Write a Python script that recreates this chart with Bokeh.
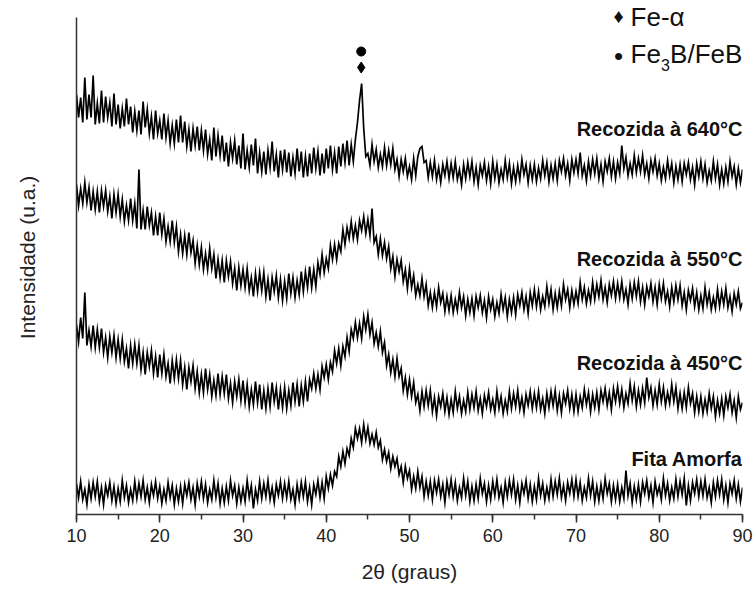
import numpy as np
from bokeh.plotting import figure
from bokeh.models import Label, Range1d, SingleIntervalTicker, FixedTicker, ColumnDataSource
from bokeh.embed import file_html
from bokeh.resources import INLINE

# 2-theta sampling grid (degrees)
two_theta = np.arange(10.0, 90.001, 0.25)

# Intensities (a.u., curves stacked with offsets as in the figure)
fita_amorfa = [
    31, 17, 33, 15, 25, 10, 30, 16, 32, 18, 33, 13, 27, 10, 29, 19, 32, 14, 28, 11,
    26, 13, 34, 17, 29, 12, 25, 14, 33, 16, 31, 18, 34, 15, 27, 12, 30, 19, 33, 16,
    28, 11, 25, 14, 32, 17, 29, 10, 26, 13, 28, 11, 30, 19, 32, 15, 27, 10, 31, 18,
    33, 16, 30, 12, 25, 15, 34, 17, 31, 11, 26, 12, 28, 14, 34, 19, 29, 11, 27, 13,
    26, 13, 34, 17, 29, 6, 25, 14, 33, 16, 31, 18, 34, 15, 27, 12, 30, 19, 33, 16,
    31, 17, 33, 15, 25, 10, 30, 16, 32, 18, 33, 13, 27, 10, 30, 20, 34, 17, 32, 16,
    38, 26, 40, 29, 43, 38, 58, 48, 63, 51, 66, 59, 76, 67, 86, 76, 86, 72, 90, 75,
    87, 71, 80, 70, 82, 67, 74, 55, 65, 53, 62, 46, 58, 48, 56, 40, 48, 32, 48, 36,
    44, 25, 38, 26, 43, 27, 38, 18, 33, 19, 33, 15, 34, 22, 35, 18, 30, 12, 33, 20,
    35, 18, 32, 14, 27, 17, 36, 19, 33, 13, 28, 14, 30, 16, 36, 21, 31, 13, 29, 15,
    33, 19, 35, 17, 27, 12, 32, 18, 34, 20, 35, 15, 29, 12, 31, 21, 34, 16, 30, 13,
    28, 15, 36, 19, 31, 14, 27, 16, 35, 18, 33, 20, 36, 17, 29, 14, 32, 21, 35, 18,
    35, 18, 32, 14, 27, 17, 36, 19, 33, 13, 28, 14, 30, 16, 36, 21, 31, 13, 29, 15,
    30, 13, 27, 16, 44, 19, 31, 12, 28, 15, 30, 13, 32, 21, 34, 17, 29, 12, 33, 20,
    28, 15, 36, 19, 31, 14, 27, 16, 35, 18, 33, 20, 36, 9, 29, 14, 32, 21, 35, 18,
    33, 19, 35, 17, 27, 12, 32, 18, 34, 20, 35, 15, 29, 12, 31, 21, 34, 16, 30, 13,
    27,
]
recozida_450 = [
    190, 173, 197, 176, 222, 169, 184, 168, 189, 167, 185, 167, 186, 162, 177, 157, 178, 162, 179, 157,
    175, 156, 175, 153, 166, 146, 169, 151, 170, 151, 169, 145, 162, 140, 162, 148, 164, 141, 158, 137,
    160, 141, 160, 138, 151, 131, 154, 136, 155, 136, 154, 130, 147, 125, 147, 133, 149, 126, 143, 122,
    140, 122, 146, 125, 140, 118, 134, 119, 141, 120, 138, 121, 140, 116, 131, 112, 133, 118, 135, 114,
    134, 112, 130, 108, 125, 110, 133, 112, 130, 105, 124, 106, 126, 108, 132, 113, 127, 105, 125, 107,
    127, 106, 124, 109, 132, 113, 130, 108, 129, 113, 133, 113, 135, 126, 141, 126, 140, 125, 148, 137,
    150, 135, 152, 143, 164, 151, 166, 149, 168, 158, 177, 163, 185, 176, 192, 177, 191, 176, 198, 185,
    200, 180, 192, 171, 182, 168, 183, 162, 172, 149, 160, 142, 155, 138, 156, 138, 146, 124, 137, 120,
    135, 118, 132, 112, 120, 104, 123, 108, 124, 109, 124, 103, 117, 99, 118, 108, 121, 103, 117, 100,
    115, 102, 123, 106, 118, 101, 114, 103, 122, 105, 120, 107, 123, 104, 116, 101, 119, 108, 122, 105,
    115, 102, 123, 106, 118, 101, 114, 103, 123, 106, 121, 108, 124, 105, 117, 102, 120, 109, 123, 106,
    121, 107, 123, 105, 116, 101, 121, 107, 123, 109, 124, 104, 119, 102, 121, 111, 124, 106, 120, 103,
    120, 103, 118, 107, 125, 110, 122, 103, 120, 107, 122, 105, 124, 113, 126, 109, 122, 105, 126, 113,
    128, 111, 125, 107, 121, 111, 131, 114, 128, 108, 124, 110, 126, 112, 137, 117, 127, 109, 124, 110,
    130, 113, 127, 109, 122, 111, 130, 113, 127, 106, 121, 106, 122, 107, 127, 111, 121, 102, 118, 103,
    118, 101, 115, 103, 121, 106, 118, 98, 114, 101, 116, 99, 118, 107, 120, 102, 114, 97, 118, 105,
    112,
]
recozida_550 = [
    330, 309, 326, 311, 332, 312, 327, 304, 323, 305, 323, 302, 324, 308, 324, 303, 318, 296, 320, 302,
    320, 298, 315, 293, 309, 294, 316, 294, 311, 286, 345, 285, 304, 285, 308, 289, 302, 279, 298, 279,
    302, 280, 296, 273, 288, 273, 294, 272, 288, 263, 280, 261, 279, 260, 282, 262, 274, 251, 269, 250,
    267, 245, 261, 245, 266, 246, 260, 236, 255, 237, 254, 232, 254, 238, 253, 231, 246, 224, 247, 229,
    245, 227, 246, 224, 237, 218, 241, 223, 242, 224, 242, 218, 235, 214, 237, 223, 239, 217, 235, 214,
    233, 216, 241, 221, 237, 217, 234, 220, 243, 223, 243, 227, 248, 227, 245, 228, 252, 240, 260, 242,
    256, 246, 269, 255, 270, 255, 271, 263, 285, 270, 287, 276, 293, 276, 289, 275, 294, 284, 298, 281,
    295, 279, 306, 272, 278, 260, 276, 259, 272, 256, 268, 246, 258, 238, 255, 243, 254, 233, 245, 226,
    246, 227, 239, 219, 230, 219, 236, 218, 230, 209, 222, 207, 222, 208, 227, 212, 221, 203, 218, 204,
    219, 202, 215, 204, 222, 207, 218, 199, 215, 202, 216, 199, 218, 207, 219, 202, 214, 197, 218, 205,
    215, 198, 212, 201, 220, 205, 217, 198, 215, 202, 217, 200, 220, 209, 222, 205, 218, 201, 222, 209,
    225, 208, 223, 205, 218, 208, 228, 211, 225, 205, 221, 207, 223, 209, 230, 215, 225, 207, 224, 210,
    223, 211, 232, 215, 227, 211, 224, 213, 232, 215, 230, 218, 234, 215, 227, 212, 230, 219, 233, 216,
    231, 217, 233, 215, 225, 210, 230, 216, 232, 218, 233, 213, 227, 210, 228, 218, 231, 213, 227, 210,
    230, 216, 231, 213, 223, 208, 227, 213, 229, 215, 229, 209, 222, 205, 224, 214, 226, 208, 222, 205,
    219, 206, 227, 210, 222, 205, 217, 206, 225, 208, 223, 210, 226, 207, 218, 203, 221, 210, 223, 206,
    212,
]
recozida_640 = [
    420, 397, 417, 392, 437, 395, 420, 397, 439, 390, 411, 391, 424, 392, 418, 397, 412, 388, 421, 390,
    410, 386, 406, 388, 416, 390, 408, 382, 403, 384, 404, 380, 413, 387, 405, 381, 398, 375, 404, 381,
    394, 375, 401, 377, 394, 371, 389, 371, 395, 372, 399, 372, 393, 368, 385, 363, 386, 369, 388, 364,
    384, 364, 385, 360, 375, 354, 387, 358, 379, 359, 379, 353, 372, 348, 372, 356, 374, 350, 369, 346,
    381, 345, 364, 347, 370, 349, 376, 341, 362, 343, 363, 340, 364, 347, 373, 343, 360, 337, 364, 345,
    365, 342, 362, 338, 357, 341, 366, 343, 363, 337, 358, 338, 361, 341, 367, 346, 363, 339, 361, 341,
    366, 346, 369, 345, 362, 341, 368, 348, 371, 352, 374, 349, 370, 353, 375, 392, 414, 431, 386, 358,
    361, 349, 370, 353, 365, 347, 360, 348, 367, 349, 364, 350, 366, 345, 355, 338, 355, 343, 356, 338,
    348, 335, 356, 339, 358, 366, 368, 352, 354, 337, 352, 338, 354, 335, 347, 332, 350, 339, 353, 336,
    351, 337, 353, 335, 345, 330, 350, 336, 352, 338, 353, 333, 347, 330, 349, 339, 352, 334, 348, 331,
    353, 336, 350, 332, 345, 335, 354, 337, 351, 331, 347, 333, 349, 335, 355, 340, 350, 332, 349, 335,
    350, 333, 347, 336, 354, 339, 352, 333, 349, 336, 351, 334, 354, 343, 356, 339, 351, 334, 355, 342,
    355, 341, 362, 339, 349, 334, 353, 339, 355, 341, 356, 336, 350, 333, 353, 343, 356, 338, 353, 336,
    352, 341, 369, 346, 357, 339, 351, 340, 359, 342, 356, 343, 359, 340, 351, 336, 354, 343, 356, 339,
    351, 334, 347, 336, 354, 339, 351, 332, 348, 335, 350, 333, 351, 340, 352, 335, 347, 330, 351, 338,
    353, 336, 350, 332, 344, 334, 353, 336, 350, 330, 345, 331, 347, 333, 353, 338, 348, 330, 346, 332,
    345,
]
for arr in (fita_amorfa, recozida_450, recozida_550, recozida_640):
    assert len(arr) == len(two_theta), len(arr)

series_labels = ["Fita Amorfa", "Recozida à 450°C", "Recozida à 550°C", "Recozida à 640°C"]
series_label_levels = [56, 152, 256, 386]

# phase identification markers above the 640 °C peak
peak_2theta = [44.2]
fe_alpha_level = [447]
fe3b_level = [463]

AXIS_TOP = 497  # the y axis line stops here

p = figure(width=754, height=589, output_backend="svg", toolbar_location=None,
           x_range=Range1d(10, 90), y_range=Range1d(0, 514),
           min_border_left=76, min_border_right=12, min_border_top=0, min_border_bottom=75)
p.outline_line_color = None
p.grid.visible = False
p.background_fill_color = "white"
p.border_fill_color = "white"

for ys in (fita_amorfa, recozida_450, recozida_550, recozida_640):
    src = ColumnDataSource(dict(x=two_theta, y=ys))
    p.line("x", "y", source=src, line_color="black", line_width=1.7, line_join="miter")

p.scatter(x=peak_2theta, y=fe_alpha_level, marker="diamond", size=11, color="black")
p.scatter(x=peak_2theta, y=fe3b_level, marker="circle", size=9, color="black")

font = "Liberation Sans"
for txt, lvl in zip(series_labels, series_label_levels):
    p.add_layout(Label(x=90, y=lvl, text=txt, text_font=font, text_font_size="20px",
                       text_font_style="bold", text_align="right", text_baseline="middle",
                       text_color="#111111"))

# legend (text block, top right)
leg = dict(text_font=font, text_color="#111111", text_baseline="middle")
p.add_layout(Label(x=75.12, y=499, text="♦", text_font_size="20px", text_align="center", **leg))
p.add_layout(Label(x=76.56, y=498, text="Fe-α", text_font_size="26px", text_align="left", **leg))
p.add_layout(Label(x=75.12, y=459, text="•", text_font_size="26px", text_align="center", **leg))
p.add_layout(Label(x=76.56, y=461, text="Fe", text_font_size="26px", text_align="left", **leg))
p.add_layout(Label(x=80.22, y=450, text="3", text_font_size="16px", text_align="left", **leg))
p.add_layout(Label(x=81.30, y=461, text="B/FeB", text_font_size="26px", text_align="left", **leg))

xa = p.xaxis[0]
xa.ticker = SingleIntervalTicker(interval=10, num_minor_ticks=2)
xa.axis_line_width = 1.5
xa.axis_line_color = "#333333"
xa.major_tick_line_color = "#333333"
xa.minor_tick_line_color = "#333333"
xa.major_tick_line_width = 1.5
xa.minor_tick_line_width = 1.5
xa.major_tick_out = 8
xa.major_tick_in = 0
xa.minor_tick_out = 5
xa.minor_tick_in = 0
xa.major_label_standoff = 6
xa.major_label_text_font = font
xa.major_label_text_font_size = "18px"
xa.major_label_text_color = "#222222"
xa.axis_label = "2θ (graus)"
xa.axis_label_text_font = font
xa.axis_label_text_font_size = "21px"
xa.axis_label_text_font_style = "normal"
xa.axis_label_text_color = "#222222"
xa.axis_label_standoff = 15

ya = p.yaxis[0]
ya.ticker = FixedTicker(ticks=[], minor_ticks=[])
ya.bounds = (0, AXIS_TOP)
ya.axis_line_width = 1.5
ya.axis_line_color = "#333333"
ya.major_tick_out = 0
ya.minor_tick_out = 0
ya.major_label_standoff = 0
ya.axis_label = "Intensidade (u.a.)"
ya.axis_label_text_font = font
ya.axis_label_text_font_size = "21px"
ya.axis_label_text_font_style = "normal"
ya.axis_label_text_color = "#222222"
ya.axis_label_standoff = 38

open("out.html", "w").write(file_html(p, INLINE))
